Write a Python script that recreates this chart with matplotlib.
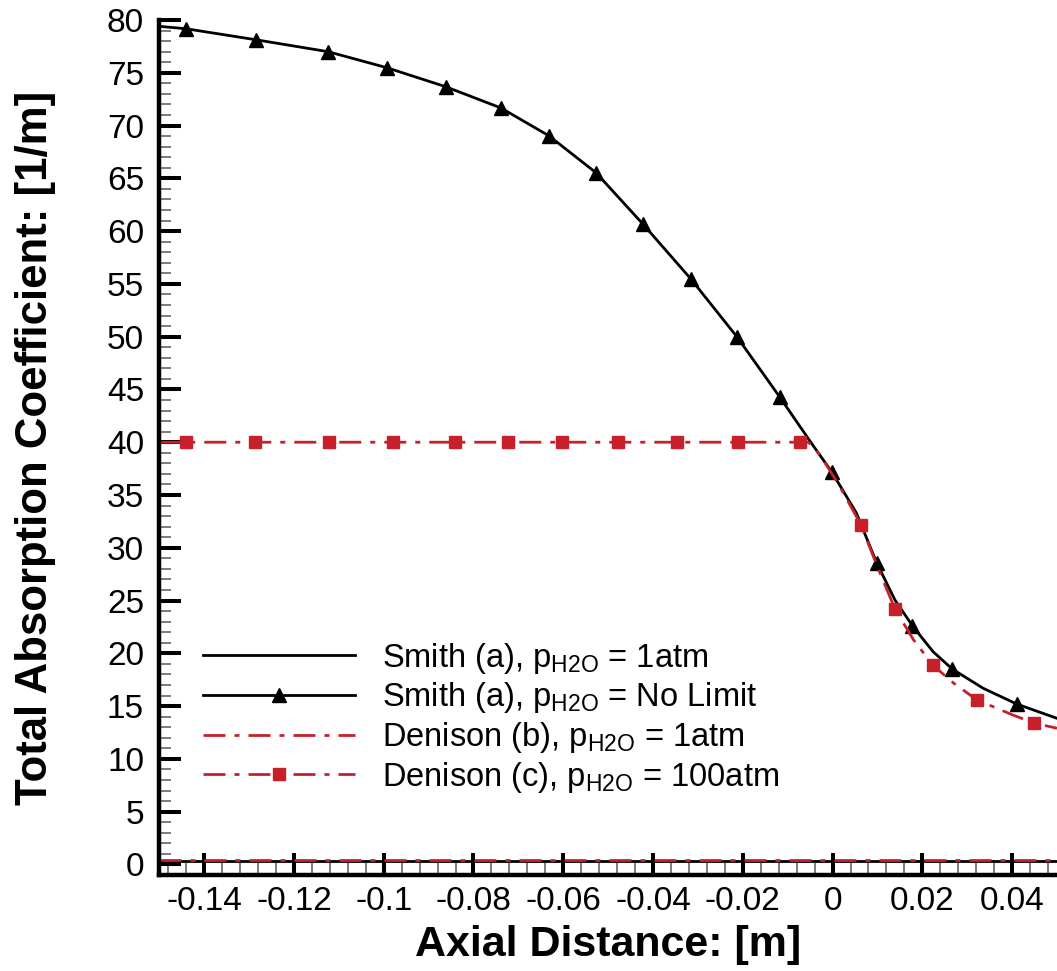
import matplotlib
matplotlib.use("Agg")
from matplotlib import pyplot as plt
from matplotlib.lines import Line2D
from matplotlib.ticker import FixedLocator, MultipleLocator, FuncFormatter

plt.rcParams["font.family"] = ["Liberation Sans", "DejaVu Sans"]
plt.rcParams["mathtext.fontset"] = "custom"
plt.rcParams["mathtext.rm"] = "Liberation Sans"
plt.rcParams["mathtext.it"] = "Liberation Sans:italic"
plt.rcParams["mathtext.bf"] = "Liberation Sans:bold"
plt.rcParams["axes.unicode_minus"] = False

RED = "#c8202a"

# Smith (a), no pressure limit: curve and triangle markers
smith_nl_x = [-0.150, -0.1440, -0.1285, -0.1124, -0.0993, -0.0862, -0.0739, -0.0632,
              -0.0527, -0.0423, -0.0316, -0.0213, -0.0118, -0.0047, -0.0002, 0.0053,
              0.0098, 0.0139, 0.0178, 0.0224, 0.0267, 0.0335, 0.0410, 0.0500]
smith_nl_y = [79.4, 79.17, 78.13, 77.0, 75.48, 73.68, 71.67, 69.03,
              65.53, 60.69, 55.48, 49.98, 44.3, 39.9, 37.2, 33.3,
              28.6, 25.05, 22.6, 20.15, 18.5, 16.7, 15.2, 13.84]
smith_mk_x = [-0.1440, -0.1285, -0.1124, -0.0993, -0.0862, -0.0739, -0.0632, -0.0527,
              -0.0423, -0.0316, -0.0213, -0.0118, -0.0002, 0.0098, 0.0178, 0.0267, 0.0410]
smith_mk_y = [79.17, 78.13, 77.0, 75.48, 73.68, 71.67, 69.03, 65.53,
              60.69, 55.48, 49.98, 44.3, 37.2, 28.6, 22.6, 18.5, 15.2]

# Denison (c), 100 atm: curve and square markers
den_c_x = [-0.150, -0.0054, -0.0028, 0.0012, 0.0063, 0.0098, 0.0139, 0.0180,
           0.0223, 0.0269, 0.0321, 0.0402, 0.0448, 0.0500]
den_c_y = [40.0, 40.0, 38.8, 36.1, 32.2, 28.4, 24.2, 21.3,
           18.9, 17.2, 15.6, 14.15, 13.4, 12.9]
den_mk_x = [-0.1440, -0.1286, -0.1122, -0.0980, -0.0842, -0.0723, -0.0603, -0.0478,
            -0.0347, -0.0211, -0.0073, 0.0063, 0.0139, 0.0223, 0.0321, 0.0448]
den_mk_y = [40.0, 40.0, 40.0, 40.0, 40.0, 40.0, 40.0, 40.0,
            40.0, 40.0, 40.0, 32.2, 24.2, 18.9, 15.6, 13.4]

# 1 atm curves (flat near zero)
atm1_x = [-0.150, 0.050]
smith_1atm_y = [0.30, 0.30]
den_1atm_y = [0.45, 0.45]

x_ticks = [-0.14, -0.12, -0.10, -0.08, -0.06, -0.04, -0.02, 0.0, 0.02, 0.04]

labels = [r"Smith (a), p$_{\mathrm{H2O}}$ = 1atm",
          r"Smith (a), p$_{\mathrm{H2O}}$ = No Limit",
          r"Denison (b), p$_{\mathrm{H2O}}$ = 1atm",
          r"Denison (c), p$_{\mathrm{H2O}}$ = 100atm"]

LW = 2.0
dashdot = (0, (7.9, 3.25, 1.8, 3.25))

fig = plt.figure(figsize=(10.57, 9.71), dpi=100)
ax = fig.add_axes([0.1507, 0.0989, 0.8493, 0.8805])

ax.plot(atm1_x, smith_1atm_y, color="black", lw=LW)
ax.plot(smith_nl_x, smith_nl_y, color="black", lw=LW)
ax.plot(smith_mk_x, smith_mk_y, ls="none", marker="^", ms=9.4, color="black")
ax.plot(atm1_x, den_1atm_y, color=RED, lw=LW, ls=dashdot)
ax.plot(den_c_x, den_c_y, color=RED, lw=LW, ls=dashdot)
ax.plot(den_mk_x, den_mk_y, ls="none", marker="s", ms=8.6, color=RED)

ax.set_xlim(-0.15, 0.05)
ax.set_ylim(-1, 80)

ax.xaxis.set_major_locator(FixedLocator(x_ticks))
ax.xaxis.set_minor_locator(MultipleLocator(0.004))
ax.yaxis.set_major_locator(MultipleLocator(5))
ax.yaxis.set_minor_locator(MultipleLocator(1))
ax.xaxis.set_major_formatter(FuncFormatter(lambda v, p: "%g" % round(v, 3)))

for s in ["top", "right"]:
    ax.spines[s].set_visible(False)
for s in ["left", "bottom"]:
    ax.spines[s].set_linewidth(3.2)

ax.tick_params(which="major", direction="in", length=16, width=2.9,
               labelsize=24, color="black")
ax.tick_params(which="minor", direction="in", length=8.5, width=1.1, color="0.35")
ax.tick_params(axis="x", which="major", pad=8)
ax.tick_params(axis="y", which="major", pad=11)

ax.set_xlabel("Axial Distance: [m]", fontsize=31, fontweight="bold")
ax.set_ylabel("Total Absorption Coefficient: [1/m]", fontsize=31.5, fontweight="bold")
ax.xaxis.set_label_coords(0.5, -0.058)
ax.yaxis.set_label_coords(-0.115, 0.5)

handles = [
    Line2D([], [], color="black", lw=LW),
    Line2D([], [], color="black", lw=LW, marker="^", ms=9.4),
    Line2D([], [], color=RED, lw=LW, ls=dashdot),
    Line2D([], [], color=RED, lw=LW, ls=dashdot, marker="s", ms=8.6),
]
ax.legend(handles, labels, loc="upper left", bbox_to_anchor=(0.192, 0.340),
          bbox_transform=fig.transFigure, frameon=False, fontsize=23.5,
          handlelength=4.65, handletextpad=0.84, labelspacing=0.14,
          borderpad=0, borderaxespad=0, numpoints=1)

fig.savefig("out.png", dpi=100)
